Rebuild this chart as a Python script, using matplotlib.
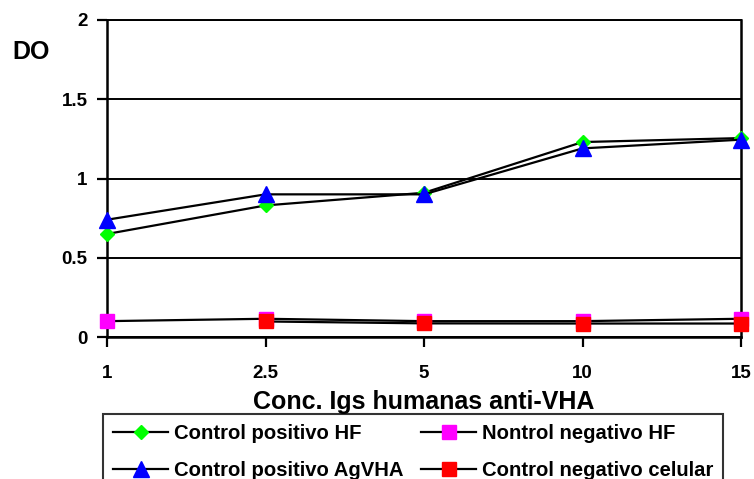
import numpy as np
import matplotlib
matplotlib.use("Agg")
import matplotlib.pyplot as plt

plt.rcParams['font.family'] = ['Liberation Sans', 'DejaVu Sans']
plt.rcParams['font.weight'] = 'bold'

# Concentrations (category axis) and optical density readings
concentrations = ["1", "2.5", "5", "10", "15"]
pos_hf = [0.65, 0.83, 0.91, 1.23, 1.255]
pos_agvha = [0.74, 0.90, 0.90, 1.19, 1.245]
neg_hf = [0.10, 0.115, 0.10, 0.10, 0.115]
neg_cel = [np.nan, 0.098, 0.086, 0.085, 0.085]

series_labels = ["Control positivo HF", "Control positivo AgVHA",
                 "Nontrol negativo HF", "Control negativo celular"]
y_ticks = [0, 0.5, 1, 1.5, 2]
y_tick_labels = ["0", "0.5", "1", "1.5", "2"]

fig = plt.figure(figsize=(7.54, 4.79), dpi=100)
ax = fig.add_axes([107 / 754, 1 - 337 / 479, (741 - 107) / 754, (337 - 20) / 479])

x = np.arange(len(concentrations))

common = dict(color="black", linewidth=1.6, clip_on=False)
l_hf, = ax.plot(x, pos_hf, marker="D", markersize=7.5, markerfacecolor="#00ff00",
                markeredgecolor="#00ff00", zorder=3, **common)
l_ag, = ax.plot(x, pos_agvha, marker="^", markersize=12, markerfacecolor="#0000ff",
                markeredgecolor="#0000ff", zorder=4, **common)
l_nhf, = ax.plot(x, neg_hf, marker="s", markersize=10, markerfacecolor="#ff00ff",
                 markeredgecolor="#ff00ff", zorder=3, **common)
l_cel, = ax.plot(x, neg_cel, marker="s", markersize=10.5, markerfacecolor="#ff0000",
                 markeredgecolor="#ff0000", zorder=4, **common)

ax.set_xlim(0, len(concentrations) - 1)
ax.set_ylim(0, 2)
ax.set_xticks(x)
ax.set_xticklabels(concentrations, fontsize=13.5, fontweight="bold")
ax.set_yticks(y_ticks)
ax.set_yticklabels(y_tick_labels, fontsize=13.5, fontweight="bold")
ax.tick_params(axis="both", direction="out", length=7, width=1.6, color="black")
ax.tick_params(axis="x", pad=13.5)
ax.tick_params(axis="y", pad=7)

ax.yaxis.grid(True, color="black", linewidth=1.4)
ax.set_axisbelow(True)
for side in ["left", "bottom", "right"]:
    ax.spines[side].set_linewidth(1.8)
    ax.spines[side].set_color("black")
ax.spines["top"].set_linewidth(1.4)

ax.set_xlabel("Conc. Igs humanas anti-VHA", fontsize=18, fontweight="bold", labelpad=5.5)
fig.text(12 / 754, 1 - 52 / 479, "DO", fontsize=18, fontweight="bold", va="center", ha="left")

leg = fig.legend([l_hf, l_ag, l_nhf, l_cel], series_labels, ncol=2,
                 loc="upper left", bbox_to_anchor=(103 / 754, 1 - 414 / 479),
                 prop={"size": 14.6, "weight": "bold"}, frameon=True, fancybox=False,
                 edgecolor="black", handlelength=2.72, handletextpad=0.26,
                 columnspacing=0.9, borderpad=0.5, labelspacing=0.87, borderaxespad=0)
leg.get_frame().set_linewidth(1.5)

fig.savefig("out.png", dpi=100)
